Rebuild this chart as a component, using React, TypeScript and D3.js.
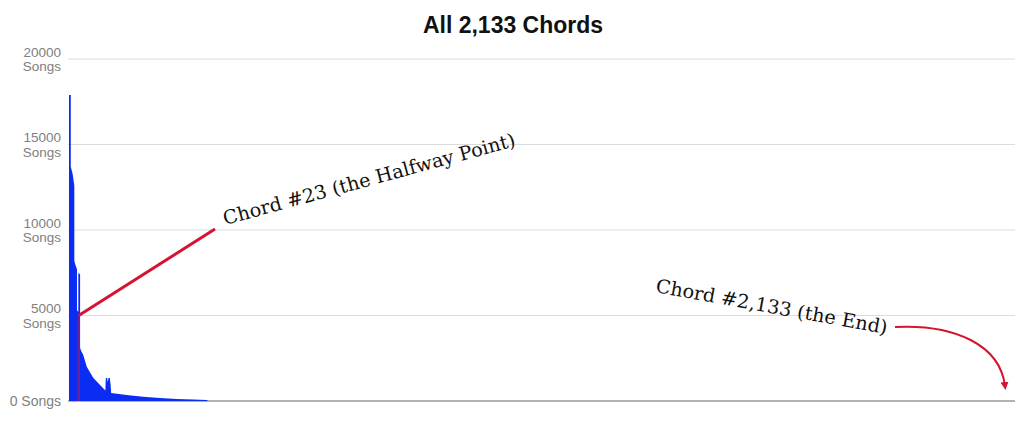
import React from "react";
import * as d3 from "d3";

// chord rank (1..2133) vs number of songs
const chordRanks = [0, 4, 4, 8, 12, 12, 14, 18, 18, 21, 21, 25, 25, 28, 32, 40, 55, 70, 81, 82, 83, 86, 87, 89, 92, 94, 95, 130, 167, 205, 243, 280, 310, 314, 2133];
const songCounts = [17900, 17900, 13700, 13300, 12600, 8200, 8000, 7700, 5300, 5200, 7500, 7400, 3100, 2900, 2700, 2000, 1340, 940, 640, 620, 1340, 1340, 1100, 1340, 1340, 900, 470, 350, 250, 175, 120, 90, 60, 0, 0];

const totalChords = 2133;
const halfwayChord = 23;
const yTicks = [0, 5000, 10000, 15000, 20000];

const title = "All 2,133 Chords";
const halfwayLabel = "Chord #23 (the Halfway Point)";
const endLabel = "Chord #2,133 (the End)";

export default function App() {
  const width = 1024;
  const height = 425;
  const margin = { top: 59, right: 9, bottom: 24, left: 68 };

  const x = d3.scaleLinear().domain([0, totalChords]).range([margin.left + 1, width - margin.right]);
  const y = d3.scaleLinear().domain([0, 20000]).range([height - margin.bottom, margin.top]);

  const points = chordRanks.map((r, i) => [r, songCounts[i]] as [number, number]);
  const area = d3
    .area<[number, number]>()
    .x((d) => x(d[0]))
    .y0(y(0))
    .y1((d) => y(d[1]));

  const hx = x(halfwayChord) - 0.5;
  const sans = "Liberation Sans, Arial, sans-serif";
  const serif = "DejaVu Serif, Liberation Serif, serif";

  return (
    <svg width={width} height={height} style={{ position: "absolute", left: 0, top: 0, background: "#fff" }}>
      <text x={513} y={33} textAnchor="middle" fontFamily={sans} fontWeight="bold" fontSize={23} fill="#111">
        {title}
      </text>

      {yTicks.map((t) => (
        <g key={t}>
          <line x1={margin.left} x2={width - margin.right} y1={y(t)} y2={y(t)} stroke={t === 0 ? "#9a9a9a" : "#dcdcdc"} strokeWidth={t === 0 ? 1.5 : 1} />
          {t === 0 ? (
            <text x={61} y={y(t)} dy="0.35em" textAnchor="end" fontFamily={sans} fontSize={14} fill="#808080">
              0 Songs
            </text>
          ) : (
            <>
              <text x={61} y={y(t) - 2.5} textAnchor="end" fontFamily={sans} fontSize={13.5} fill="#808080">
                {t}
              </text>
              <text x={61} y={y(t) + 12} textAnchor="end" fontFamily={sans} fontSize={13.5} fill="#808080">
                Songs
              </text>
            </>
          )}
        </g>
      ))}

      <path d={area(points) || ""} fill="#0b2cf2" />

      <line x1={hx} x2={hx} y1={y(0)} y2={y(5000)} stroke="#d41432" strokeOpacity={0.5} strokeWidth={2.5} />
      <line x1={hx} y1={y(5000)} x2={215} y2={229} stroke="#d41432" strokeWidth={3} />

      <text
        transform="translate(225,225) rotate(-15.2)"
        fontFamily={serif}
        fontSize={19}
        fill="#111"
        textLength={302}
        lengthAdjust="spacingAndGlyphs"
      >
        {halfwayLabel}
      </text>

      <text
        transform="translate(655,292) rotate(10.3)"
        fontFamily={serif}
        fontSize={19}
        fill="#111"
        textLength={235}
        lengthAdjust="spacingAndGlyphs"
      >
        {endLabel}
      </text>

      <defs>
        <marker id="arrowHead" viewBox="0 0 10 10" refX="5" refY="5" markerWidth="4" markerHeight="4" orient="auto">
          <path d="M0,0 L10,5 L0,10 z" fill="#d41432" />
        </marker>
      </defs>
      <path d="M895,327 C955,324 1000,345 1005,386" fill="none" stroke="#d41432" strokeWidth={2} markerEnd="url(#arrowHead)" />
    </svg>
  );
}
